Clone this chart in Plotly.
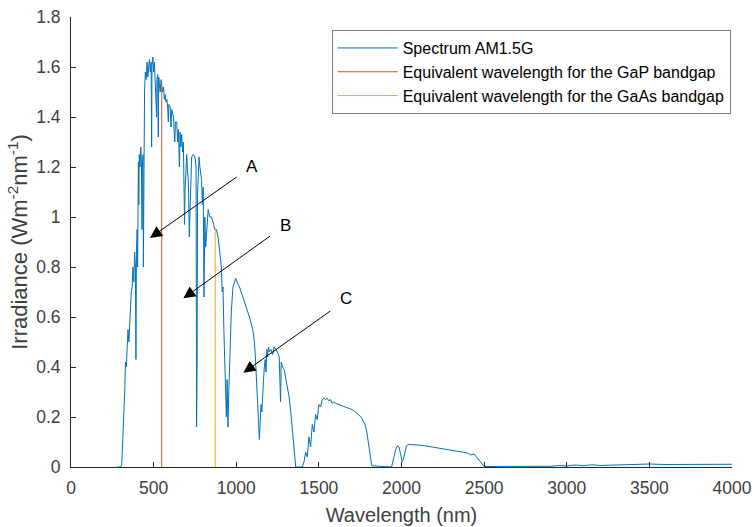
import plotly.graph_objects as go

# AM1.5G spectrum
wavelength_nm = [
    280, 300, 307, 315, 325, 330, 335, 340, 345, 350, 355, 360, 365, 370, 375, 380, 385, 390, 393, 396,
    400, 403, 405, 408, 410, 413, 418, 422, 426, 430, 432, 436, 438, 441, 445, 450, 455, 460, 465, 470,
    475, 480, 485, 488, 490, 495, 500, 505, 510, 515, 518, 520, 525, 528, 531, 535, 540, 545, 550, 555,
    560, 565, 570, 575, 580, 585, 589, 592, 600, 605, 610, 615, 620, 628, 632, 640, 645, 650, 656, 660,
    665, 670, 675, 680, 687, 690, 695, 700, 705, 710, 716, 720, 725, 730, 740, 750, 757, 760, 763, 766,
    770, 775, 780, 785, 790, 795, 800, 805, 810, 815, 820, 825, 830, 840, 850, 860, 870, 880, 890, 900,
    910, 915, 920, 925, 930, 935, 940, 945, 950, 955, 960, 965, 970, 980, 990, 997, 1005, 1020, 1040, 1060,
    1080, 1100, 1110, 1115, 1120, 1125, 1130, 1135, 1140, 1145, 1150, 1155, 1160, 1165, 1170, 1175, 1180, 1185, 1190, 1195,
    1200, 1210, 1220, 1230, 1240, 1250, 1260, 1268, 1272, 1280, 1290, 1300, 1310, 1320, 1330, 1340, 1350, 1360, 1400, 1410,
    1420, 1430, 1440, 1450, 1460, 1470, 1480, 1490, 1500, 1510, 1520, 1530, 1540, 1550, 1560, 1570, 1580, 1590, 1600, 1620,
    1640, 1660, 1680, 1700, 1720, 1740, 1760, 1780, 1790, 1800, 1810, 1820, 1940, 1950, 1965, 1975, 1985, 1995, 2005, 2015,
    2030, 2040, 2060, 2080, 2100, 2150, 2200, 2250, 2300, 2350, 2400, 2420, 2440, 2460, 2480, 2495, 2500, 2900, 2950, 3000,
    3050, 3100, 3150, 3200, 3300, 3400, 3500, 3600, 3700, 3800, 3900, 3980, 4000,
]
irradiance = [
    0, 0.0, 0.01, 0.12, 0.30, 0.42, 0.40, 0.48, 0.55, 0.50, 0.58, 0.62, 0.70, 0.72, 0.80, 0.74, 0.86, 0.80, 0.43, 0.85,
    0.95, 0.80, 1.15, 1.22, 1.05, 1.25, 1.20, 1.28, 1.22, 0.95, 1.20, 1.25, 0.80, 1.30, 1.50, 1.58, 1.55, 1.62, 1.56, 1.60,
    1.63, 1.58, 1.62, 1.28, 1.60, 1.64, 1.58, 1.62, 1.55, 1.50, 1.40, 1.55, 1.57, 1.32, 1.56, 1.53, 1.50, 1.55, 1.52, 1.50,
    1.52, 1.47, 1.49, 1.46, 1.47, 1.44, 1.38, 1.45, 1.44, 1.36, 1.43, 1.41, 1.40, 1.30, 1.38, 1.38, 1.30, 1.35, 1.20, 1.34,
    1.28, 1.33, 1.26, 1.30, 0.97, 1.10, 1.22, 1.25, 1.18, 1.15, 0.92, 1.05, 1.20, 1.24, 1.25, 1.24, 1.20, 0.16, 0.40, 1.10,
    1.20, 1.24, 1.20, 1.18, 1.15, 1.05, 1.12, 0.68, 1.00, 0.88, 0.95, 1.02, 1.03, 1.00, 1.00, 0.98, 0.95, 0.95, 0.92, 0.86,
    0.80, 0.70, 0.72, 0.55, 0.40, 0.30, 0.20, 0.35, 0.16, 0.30, 0.45, 0.55, 0.62, 0.72, 0.74, 0.755, 0.74, 0.72, 0.68, 0.64,
    0.60, 0.55, 0.50, 0.45, 0.38, 0.32, 0.28, 0.20, 0.11, 0.18, 0.25, 0.22, 0.32, 0.35, 0.40, 0.43, 0.38, 0.47, 0.44, 0.48,
    0.46, 0.47, 0.45, 0.48, 0.47, 0.46, 0.44, 0.26, 0.42, 0.40, 0.39, 0.35, 0.32, 0.28, 0.22, 0.15, 0.06, 0.0, 0.0, 0.02,
    0.06, 0.04, 0.12, 0.08, 0.17, 0.14, 0.21, 0.19, 0.25, 0.24, 0.27, 0.275, 0.27, 0.275, 0.265, 0.27, 0.255, 0.26, 0.255, 0.25,
    0.245, 0.24, 0.235, 0.23, 0.22, 0.21, 0.195, 0.17, 0.14, 0.09, 0.04, 0.005, 0.0, 0.03, 0.07, 0.085, 0.08, 0.05, 0.02, 0.04,
    0.085, 0.09, 0.09, 0.09, 0.088, 0.084, 0.079, 0.074, 0.068, 0.062, 0.056, 0.048, 0.052, 0.035, 0.02, 0.005, 0.002, 0.003, 0.006, 0.004,
    0.008, 0.005, 0.009, 0.006, 0.008, 0.009, 0.012, 0.010, 0.011, 0.010, 0.010, 0.011, 0.011,
]

gap_wavelength = 549      # GaP bandgap equivalent (nm)
gap_height = 1.54
gaas_wavelength = 873     # GaAs bandgap equivalent (nm)
gaas_height = 0.95

# arrows: head (x, y), tail (x, y), label position
arrow_labels = ["A", "B", "C"]
arrow_head_x = [478, 680, 1043]
arrow_head_y = [0.916, 0.675, 0.377]
arrow_tail_x = [1011, 1214, 1578]
arrow_tail_y = [1.164, 0.928, 0.628]
label_x = [1093, 1295, 1662]
label_y = [1.201, 0.968, 0.675]

x_ticks = [0, 500, 1000, 1500, 2000, 2500, 3000, 3500, 4000]
y_ticks = [0, 0.2, 0.4, 0.6, 0.8, 1, 1.2, 1.4, 1.6, 1.8]

FONT = "Liberation Sans, Arial, sans-serif"
AX = "#262626"
TXT = "#404040"

fig = go.Figure()
fig.add_trace(go.Scatter(x=wavelength_nm, y=irradiance, mode="lines",
                         line=dict(color="#0072BD", width=1), name="Spectrum AM1.5G"))
fig.add_trace(go.Scatter(x=[gap_wavelength, gap_wavelength], y=[0, gap_height], mode="lines",
                         line=dict(color="#D95319", width=1),
                         name="Equivalent wavelength for the GaP bandgap"))
fig.add_trace(go.Scatter(x=[gaas_wavelength, gaas_wavelength], y=[0, gaas_height], mode="lines",
                         line=dict(color="#EDB120", width=1),
                         name="Equivalent wavelength for the GaAs bandgap"))

for i, lab in enumerate(arrow_labels):
    fig.add_annotation(x=arrow_head_x[i], y=arrow_head_y[i], ax=arrow_tail_x[i], ay=arrow_tail_y[i],
                       xref="x", yref="y", axref="x", ayref="y", text="", showarrow=True,
                       arrowhead=2, arrowsize=2.4, arrowwidth=1, arrowcolor="black")
    fig.add_annotation(x=label_x[i], y=label_y[i], xref="x", yref="y", text=lab, showarrow=False,
                       font=dict(family=FONT, size=17, color="black"))

fig.update_layout(
    width=753, height=527,
    margin=dict(l=71, r=21, t=17, b=60),
    paper_bgcolor="white", plot_bgcolor="white",
    font=dict(family=FONT, size=14, color=AX),
    showlegend=True,
    legend=dict(x=0.998, y=0.971, xanchor="right", yanchor="top",
                bordercolor="#7f7f7f", borderwidth=1, bgcolor="white",
                font=dict(family=FONT, size=16, color="#000000"),
                tracegroupgap=0, itemwidth=60),
    xaxis=dict(range=[0, 4000], tickvals=x_ticks, ticks="inside", ticklen=5, tickcolor=AX,
               showline=True, linecolor=AX, linewidth=1, showgrid=False, zeroline=False,
               automargin=False,
               tickfont=dict(size=17.5, color=TXT), ticklabelstandoff=5,
               title=dict(text="Wavelength (nm)", font=dict(size=20, color=TXT), standoff=10)),
    yaxis=dict(range=[0, 1.8], tickvals=y_ticks, ticks="inside", ticklen=5, tickcolor=AX,
               showline=True, linecolor=AX, linewidth=1, showgrid=False, zeroline=False,
               automargin=False,
               tickfont=dict(size=17.5, color=TXT), ticklabelstandoff=6,
               title=dict(text="Irradiance (Wm<sup>-2</sup>nm<sup>-1</sup>)",
                          font=dict(size=22, color=TXT), standoff=2)),
)

fig.write_html("out.html")
